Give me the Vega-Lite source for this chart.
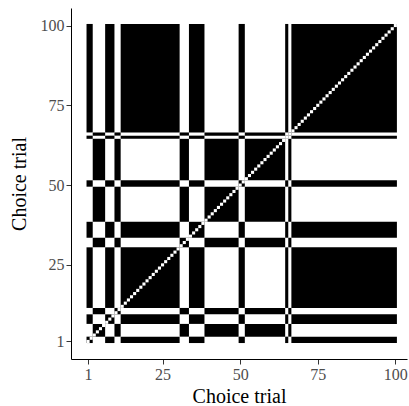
{
  "$schema": "https://vega.github.io/schema/vega-lite/v6.json",
  "autosize": {"type": "none"},
  "padding": {"left": 71, "top": 8, "right": 2, "bottom": 47},
  "width": 336,
  "height": 351,
  "background": "white",
  "config": {
    "view": {"stroke": null},
    "font": "Liberation Serif",
    "axis": {
      "grid": false,
      "domainColor": "black",
      "domainWidth": 1,
      "tickColor": "#333333",
      "tickWidth": 1,
      "tickSize": 5,
      "labelFont": "Liberation Serif",
      "labelFontSize": 16,
      "labelColor": "#4D4D4D",
      "labelPadding": 2,
      "titleFont": "Liberation Serif",
      "titleFontSize": 20,
      "titleFontWeight": "normal",
      "titleColor": "black"
    },
    "axisY": {"titlePadding": 11},
    "axisX": {"titlePadding": 4}
  },
  "datasets": {
    "blocks": [
      {"x1":0.5,"x2":2.5,"y1":0.5,"y2":2.5},{"x1":0.5,"x2":2.5,"y1":6.5,"y2":9.5},{"x1":0.5,"x2":2.5,"y1":11.5,"y2":30.5},{"x1":0.5,"x2":2.5,"y1":33.5,"y2":38.5},{"x1":0.5,"x2":2.5,"y1":49.5,"y2":51.5},{"x1":0.5,"x2":2.5,"y1":64.5,"y2":65.5},{"x1":0.5,"x2":2.5,"y1":66.5,"y2":100.5},
      {"x1":6.5,"x2":9.5,"y1":0.5,"y2":2.5},{"x1":6.5,"x2":9.5,"y1":6.5,"y2":9.5},{"x1":6.5,"x2":9.5,"y1":11.5,"y2":30.5},{"x1":6.5,"x2":9.5,"y1":33.5,"y2":38.5},{"x1":6.5,"x2":9.5,"y1":49.5,"y2":51.5},{"x1":6.5,"x2":9.5,"y1":64.5,"y2":65.5},{"x1":6.5,"x2":9.5,"y1":66.5,"y2":100.5},
      {"x1":11.5,"x2":30.5,"y1":0.5,"y2":2.5},{"x1":11.5,"x2":30.5,"y1":6.5,"y2":9.5},{"x1":11.5,"x2":30.5,"y1":11.5,"y2":30.5},{"x1":11.5,"x2":30.5,"y1":33.5,"y2":38.5},{"x1":11.5,"x2":30.5,"y1":49.5,"y2":51.5},{"x1":11.5,"x2":30.5,"y1":64.5,"y2":65.5},{"x1":11.5,"x2":30.5,"y1":66.5,"y2":100.5},
      {"x1":33.5,"x2":38.5,"y1":0.5,"y2":2.5},{"x1":33.5,"x2":38.5,"y1":6.5,"y2":9.5},{"x1":33.5,"x2":38.5,"y1":11.5,"y2":30.5},{"x1":33.5,"x2":38.5,"y1":33.5,"y2":38.5},{"x1":33.5,"x2":38.5,"y1":49.5,"y2":51.5},{"x1":33.5,"x2":38.5,"y1":64.5,"y2":65.5},{"x1":33.5,"x2":38.5,"y1":66.5,"y2":100.5},
      {"x1":49.5,"x2":51.5,"y1":0.5,"y2":2.5},{"x1":49.5,"x2":51.5,"y1":6.5,"y2":9.5},{"x1":49.5,"x2":51.5,"y1":11.5,"y2":30.5},{"x1":49.5,"x2":51.5,"y1":33.5,"y2":38.5},{"x1":49.5,"x2":51.5,"y1":49.5,"y2":51.5},{"x1":49.5,"x2":51.5,"y1":64.5,"y2":65.5},{"x1":49.5,"x2":51.5,"y1":66.5,"y2":100.5},
      {"x1":64.5,"x2":65.5,"y1":0.5,"y2":2.5},{"x1":64.5,"x2":65.5,"y1":6.5,"y2":9.5},{"x1":64.5,"x2":65.5,"y1":11.5,"y2":30.5},{"x1":64.5,"x2":65.5,"y1":33.5,"y2":38.5},{"x1":64.5,"x2":65.5,"y1":49.5,"y2":51.5},{"x1":64.5,"x2":65.5,"y1":64.5,"y2":65.5},{"x1":64.5,"x2":65.5,"y1":66.5,"y2":100.5},
      {"x1":66.5,"x2":100.5,"y1":0.5,"y2":2.5},{"x1":66.5,"x2":100.5,"y1":6.5,"y2":9.5},{"x1":66.5,"x2":100.5,"y1":11.5,"y2":30.5},{"x1":66.5,"x2":100.5,"y1":33.5,"y2":38.5},{"x1":66.5,"x2":100.5,"y1":49.5,"y2":51.5},{"x1":66.5,"x2":100.5,"y1":64.5,"y2":65.5},{"x1":66.5,"x2":100.5,"y1":66.5,"y2":100.5},
      {"x1":2.5,"x2":6.5,"y1":2.5,"y2":6.5},{"x1":2.5,"x2":6.5,"y1":9.5,"y2":11.5},{"x1":2.5,"x2":6.5,"y1":30.5,"y2":33.5},{"x1":2.5,"x2":6.5,"y1":38.5,"y2":49.5},{"x1":2.5,"x2":6.5,"y1":51.5,"y2":64.5},{"x1":2.5,"x2":6.5,"y1":65.5,"y2":66.5},
      {"x1":9.5,"x2":11.5,"y1":2.5,"y2":6.5},{"x1":9.5,"x2":11.5,"y1":9.5,"y2":11.5},{"x1":9.5,"x2":11.5,"y1":30.5,"y2":33.5},{"x1":9.5,"x2":11.5,"y1":38.5,"y2":49.5},{"x1":9.5,"x2":11.5,"y1":51.5,"y2":64.5},{"x1":9.5,"x2":11.5,"y1":65.5,"y2":66.5},
      {"x1":30.5,"x2":33.5,"y1":2.5,"y2":6.5},{"x1":30.5,"x2":33.5,"y1":9.5,"y2":11.5},{"x1":30.5,"x2":33.5,"y1":30.5,"y2":33.5},{"x1":30.5,"x2":33.5,"y1":38.5,"y2":49.5},{"x1":30.5,"x2":33.5,"y1":51.5,"y2":64.5},{"x1":30.5,"x2":33.5,"y1":65.5,"y2":66.5},
      {"x1":38.5,"x2":49.5,"y1":2.5,"y2":6.5},{"x1":38.5,"x2":49.5,"y1":9.5,"y2":11.5},{"x1":38.5,"x2":49.5,"y1":30.5,"y2":33.5},{"x1":38.5,"x2":49.5,"y1":38.5,"y2":49.5},{"x1":38.5,"x2":49.5,"y1":51.5,"y2":64.5},{"x1":38.5,"x2":49.5,"y1":65.5,"y2":66.5},
      {"x1":51.5,"x2":64.5,"y1":2.5,"y2":6.5},{"x1":51.5,"x2":64.5,"y1":9.5,"y2":11.5},{"x1":51.5,"x2":64.5,"y1":30.5,"y2":33.5},{"x1":51.5,"x2":64.5,"y1":38.5,"y2":49.5},{"x1":51.5,"x2":64.5,"y1":51.5,"y2":64.5},{"x1":51.5,"x2":64.5,"y1":65.5,"y2":66.5},
      {"x1":65.5,"x2":66.5,"y1":2.5,"y2":6.5},{"x1":65.5,"x2":66.5,"y1":9.5,"y2":11.5},{"x1":65.5,"x2":66.5,"y1":30.5,"y2":33.5},{"x1":65.5,"x2":66.5,"y1":38.5,"y2":49.5},{"x1":65.5,"x2":66.5,"y1":51.5,"y2":64.5},{"x1":65.5,"x2":66.5,"y1":65.5,"y2":66.5}
    ],
    "diag": [
      {"t":1},{"t":2},{"t":3},{"t":4},{"t":5},{"t":6},{"t":7},{"t":8},{"t":9},{"t":10},
      {"t":11},{"t":12},{"t":13},{"t":14},{"t":15},{"t":16},{"t":17},{"t":18},{"t":19},{"t":20},
      {"t":21},{"t":22},{"t":23},{"t":24},{"t":25},{"t":26},{"t":27},{"t":28},{"t":29},{"t":30},
      {"t":31},{"t":32},{"t":33},{"t":34},{"t":35},{"t":36},{"t":37},{"t":38},{"t":39},{"t":40},
      {"t":41},{"t":42},{"t":43},{"t":44},{"t":45},{"t":46},{"t":47},{"t":48},{"t":49},{"t":50},
      {"t":51},{"t":52},{"t":53},{"t":54},{"t":55},{"t":56},{"t":57},{"t":58},{"t":59},{"t":60},
      {"t":61},{"t":62},{"t":63},{"t":64},{"t":65},{"t":66},{"t":67},{"t":68},{"t":69},{"t":70},
      {"t":71},{"t":72},{"t":73},{"t":74},{"t":75},{"t":76},{"t":77},{"t":78},{"t":79},{"t":80},
      {"t":81},{"t":82},{"t":83},{"t":84},{"t":85},{"t":86},{"t":87},{"t":88},{"t":89},{"t":90},
      {"t":91},{"t":92},{"t":93},{"t":94},{"t":95},{"t":96},{"t":97},{"t":98},{"t":99},{"t":100}
    ]
  },
  "layer": [
    {
      "data": {"name": "blocks"},
      "mark": {"type": "rect", "color": "black", "strokeWidth": 0},
      "encoding": {
        "x": {"field": "x1", "type": "quantitative", "title": "Choice trial",
              "scale": {"domain": [-4.5, 103.75], "nice": false, "zero": false},
              "axis": {"values": [1, 25, 50, 75, 100], "labelFont": "Liberation Serif", "titleFont": "Liberation Serif"}},
        "x2": {"field": "x2"},
        "y": {"field": "y1", "type": "quantitative", "title": "Choice trial",
              "scale": {"domain": [-4.5, 105.5], "nice": false, "zero": false},
              "axis": {"values": [1, 25, 50, 75, 100], "labelFont": "Liberation Serif", "titleFont": "Liberation Serif"}},
        "y2": {"field": "y2"}
      }
    },
    {
      "data": {"name": "diag"},
      "mark": {"type": "square", "color": "white", "size": 9.5, "opacity": 1, "filled": true},
      "encoding": {
        "x": {"field": "t", "type": "quantitative", "title": "Choice trial",
              "axis": {"values": [1, 25, 50, 75, 100], "labelFont": "Liberation Serif", "titleFont": "Liberation Serif"}},
        "y": {"field": "t", "type": "quantitative", "title": "Choice trial",
              "axis": {"values": [1, 25, 50, 75, 100], "labelFont": "Liberation Serif", "titleFont": "Liberation Serif"}}
      }
    }
  ]
}
